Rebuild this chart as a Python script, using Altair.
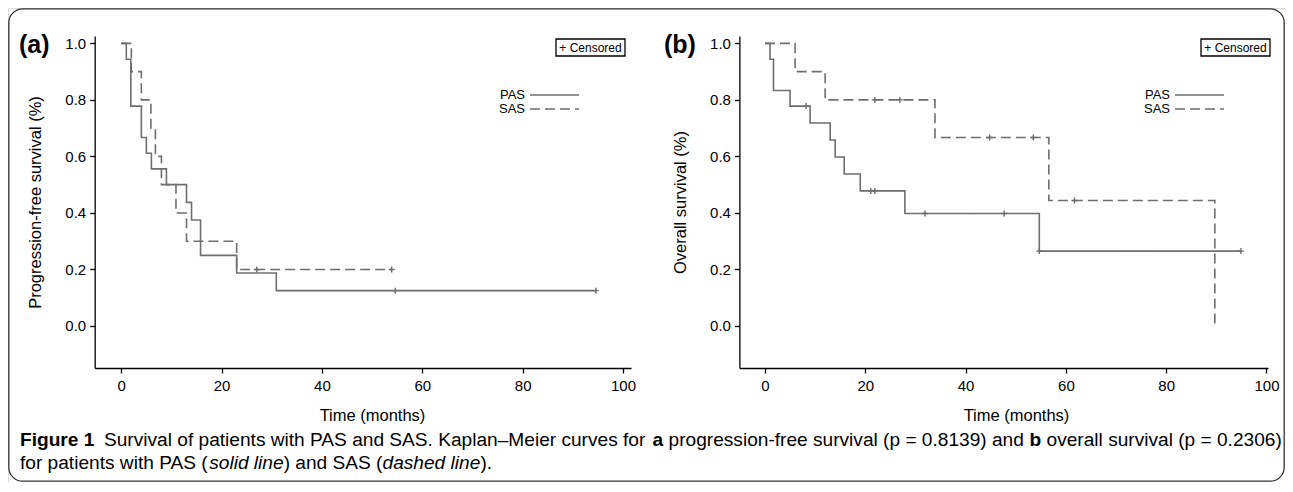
import altair as alt
import pandas as pd

# ---------------- data ----------------
# (a) progression-free survival
pfs_pas_t = [0, 1.0, 1.9, 4.0, 5.0, 6.0, 9.0, 13.0, 14.0, 15.8, 23.0, 30.9, 94.6]
pfs_pas_s = [1.0, 0.944, 0.778, 0.667, 0.611, 0.556, 0.5, 0.4375, 0.375, 0.25, 0.1875, 0.125, 0.125]
pfs_pas_cens_t = [54.6, 94.6]
pfs_pas_cens_s = [0.125, 0.125]
pfs_sas_t = [0, 2.0, 4.0, 5.9, 6.8, 8.0, 10.9, 13.0, 23.0, 53.9]
pfs_sas_s = [1.0, 0.9, 0.8, 0.7, 0.6, 0.5, 0.4, 0.3, 0.2, 0.2]
pfs_sas_cens_t = [27.0, 53.9]
pfs_sas_cens_s = [0.2, 0.2]

# (b) overall survival
os_pas_t = [0, 1.0, 1.7, 5.0, 9.0, 13.0, 14.0, 15.8, 19.0, 27.9, 54.7, 94.9]
os_pas_s = [1.0, 0.944, 0.833, 0.778, 0.718, 0.658, 0.598, 0.538, 0.478, 0.398, 0.265, 0.265]
os_pas_cens_t = [8.2, 21.1, 21.9, 31.9, 47.7, 54.7, 94.9]
os_pas_cens_s = [0.778, 0.478, 0.478, 0.398, 0.398, 0.265, 0.265]
os_sas_t = [0, 6.0, 12.0, 33.9, 56.6, 89.7]
os_sas_s = [1.0, 0.9, 0.8, 0.667, 0.444, 0.0]
os_sas_cens_t = [21.9, 26.9, 44.8, 53.5, 61.7]
os_sas_cens_s = [0.8, 0.8, 0.667, 0.667, 0.444]

groups = ["PAS", "SAS"]
x_ticks = [0, 20, 40, 60, 80, 100]
y_ticks = [0.0, 0.2, 0.4, 0.6, 0.8, 1.0]
x_title = "Time (months)"
y_title_a = "Progression-free survival (%)"
y_title_b = "Overall survival (%)"
panel_tags = ["(a)", "(b)"]
censor_label = "+ Censored"

# caption segments: (text, weight, style, gap-before in em)
caption_line1 = [
    ("Figure 1", "bold", "normal", 0.0),
    ("Survival of patients with PAS and SAS. Kaplan\u2013Meier curves for", "normal", "normal", 0.5),
    ("a", "bold", "normal", 0.278),
    ("progression-free survival (p = 0.8139) and", "normal", "normal", 0.278),
    ("b", "bold", "normal", 0.278),
    ("overall survival (p = 0.2306)", "normal", "normal", 0.278),
]
caption_line2 = [
    ("for patients with PAS (", "normal", "normal", 0.0),
    ("solid line", "normal", "italic", 0.0),
    (") and SAS (", "normal", "normal", 0.0),
    ("dashed line", "normal", "italic", 0.0),
    (").", "normal", "normal", 0.0),
]

# ---------------- layout / style ----------------
W, H = 1277, 474           # whole framed figure (view), page offset 8px
OFF = 8
FONT = "Liberation Sans"
GRAY = "#6e6e6e"
Y_DOM = [-0.1486, 1.026]
Y_RANGE = [360, 28]
AXIS_Y = 360               # x-axis line position (view coords)

# Arial / Liberation Sans advance widths (1/1000 em) for laying out caption runs
REG = {" ": 278, "(": 333, ")": 333, "%": 889, "+": 584, "-": 333, ".": 278, "=": 584,
       "\u2013": 556, "A": 667, "C": 722, "K": 667, "M": 833, "P": 667, "S": 667, "F": 611,
       "a": 556, "b": 556, "c": 500, "d": 556, "e": 556, "f": 278, "g": 556, "h": 556,
       "i": 222, "k": 500, "l": 222, "m": 833, "n": 556, "o": 556, "p": 556, "r": 333,
       "s": 500, "t": 278, "u": 556, "v": 500, "w": 722, "y": 500}
BOLD = {"a": 556, "b": 611, "F": 611, "i": 278, "g": 611, "u": 611, "r": 389, "e": 556, " ": 278}


def em_width(s, weight):
    tab = BOLD if weight == "bold" else REG
    return sum((tab.get(c) or REG.get(c) or 556) for c in s) / 1000.0


def axis_common():
    return dict(domainColor="black", tickColor="black", labelColor="black",
                titleColor="black", labelFont=FONT, titleFont=FONT,
                labelFontSize=15, titleFontSize=16.5, titleFontWeight="normal",
                tickSize=5, domainWidth=1.3, tickWidth=1.3, grid=False, zindex=1)


def panel(pas_t, pas_s, sas_t, sas_s, pc_t, pc_s, sc_t, sc_s,
          x_dom, x_rng, y_title, x_title_x):
    lines = pd.DataFrame({
        "t": pas_t + sas_t,
        "s": pas_s + sas_s,
        "g": [groups[0]] * len(pas_t) + [groups[1]] * len(sas_t),
    })
    cens = pd.DataFrame({"t": pc_t + sc_t, "s": pc_s + sc_s})
    xs = alt.Scale(domain=x_dom, range=x_rng, nice=False, zero=False)
    ys = alt.Scale(domain=Y_DOM, range=Y_RANGE, nice=False, zero=False)
    xaxis = alt.Axis(orient="bottom", offset=-(H - AXIS_Y), values=x_ticks,
                     format="d", title=x_title, labelPadding=5,
                     titleX=x_title_x, titleY=47, titleBaseline="middle",
                     titleAnchor="middle", **axis_common())
    yaxis = alt.Axis(orient="left", offset=-x_rng[0], values=y_ticks,
                     format=".1f", title=y_title, labelPadding=4,
                     titleX=-59, titleY=194, titleAngle=270,
                     titleBaseline="middle", titleAlign="center",
                     **axis_common())
    line = alt.Chart(lines).mark_line(
        interpolate="step-after", strokeWidth=1.6, color=GRAY
    ).encode(
        x=alt.X("t:Q", scale=xs, axis=xaxis),
        y=alt.Y("s:Q", scale=ys, axis=yaxis),
        strokeDash=alt.StrokeDash("g:N", scale=alt.Scale(domain=groups, range=[[1, 0], [10, 5]]), legend=None),
        detail="g:N",
    )
    pts = alt.Chart(cens).mark_point(
        shape="M0,-1V1M-1,0H1", size=36, color=GRAY, strokeWidth=1.4, filled=False, opacity=1
    ).encode(x="t:Q", y="s:Q")
    return alt.layer(line, pts)


one = pd.DataFrame({"k": [0]})


def txt(s, x, y, size, weight="normal", style="normal", align="left"):
    return alt.Chart(pd.DataFrame({"label": [s]})).mark_text(
        align=align, baseline="middle", fontSize=size, fontWeight=weight,
        fontStyle=style, font=FONT, color="black"
    ).encode(text="label:N", x=alt.value(x - OFF), y=alt.value(y - OFF))


def hline(x1, x2, y, dash):
    return alt.Chart(one).mark_rule(color=GRAY, strokeWidth=1.6, strokeDash=dash).encode(
        x=alt.value(x1 - OFF), x2=alt.value(x2 - OFF), y=alt.value(y - OFF))


def box(x1, x2, y1, y2):
    return alt.Chart(one).mark_rect(fill="white", stroke="black", strokeWidth=1.3).encode(
        x=alt.value(x1 - OFF), x2=alt.value(x2 - OFF), y=alt.value(y1 - OFF), y2=alt.value(y2 - OFF))


def decorations(dx):
    return [
        box(556 + dx, 625 + dx, 39, 56),
        txt(censor_label, 590.5 + dx, 47.5, 12, align="center"),
        txt(groups[0], 525 + dx, 95, 13, align="right"),
        txt(groups[1], 525 + dx, 109, 13, align="right"),
        hline(530 + dx, 579 + dx, 95, [1, 0]),
        hline(530 + dx, 579 + dx, 109, [10, 5]),
    ]


def caption(segs, x0, y, size):
    out, x = [], x0
    for s, w, st, gap in segs:
        x += gap * size
        out.append(txt(s, x, y, size, weight=w, style=st))
        x += em_width(s, w) * size
    return out


frame = alt.Chart(one).mark_rect(
    fill="white", fillOpacity=0, stroke="#333333", strokeWidth=1.3, cornerRadius=14
).encode(x=alt.value(0.8), x2=alt.value(W - 0.8), y=alt.value(0.8), y2=alt.value(H - 0.8))

pa = panel(pfs_pas_t, pfs_pas_s, pfs_sas_t, pfs_sas_s,
           pfs_pas_cens_t, pfs_pas_cens_s, pfs_sas_cens_t, pfs_sas_cens_s,
           [-5.3, 101.6], [94.7 - OFF, 631 - OFF], y_title_a, 372 - OFF)
pb = panel(os_pas_t, os_pas_s, os_sas_t, os_sas_s,
           os_pas_cens_t, os_pas_cens_s, os_sas_cens_t, os_sas_cens_s,
           [-5.1, 100.3], [739.4 - OFF, 1268 - OFF], y_title_b, 1016 - OFF)

# caption font size chosen so that line 1 spans the reference's 20..1282 px
line1_em = sum(em_width(s, w) + g for s, w, st, g in caption_line1)
cap_size = round((1282 - 20) / line1_em, 2)

deco = decorations(0) + decorations(645)
deco.append(txt(panel_tags[0], 19, 45, 25, weight="bold"))
deco.append(txt(panel_tags[1], 664, 45, 25, weight="bold"))
deco += caption(caption_line1, 20, 440, cap_size)
deco += caption(caption_line2, 20, 463, cap_size)

chart = alt.layer(frame, pa, pb, *deco).resolve_scale(
    x="independent", y="independent"
).resolve_axis(x="independent", y="independent").properties(
    width=W, height=H, padding=0, autosize=alt.AutoSizeParams(type="none")
).configure_view(
    stroke="transparent", strokeWidth=0
).configure(background="white")

chart.save("out.html", embed_options={"renderer": "svg", "actions": False})
